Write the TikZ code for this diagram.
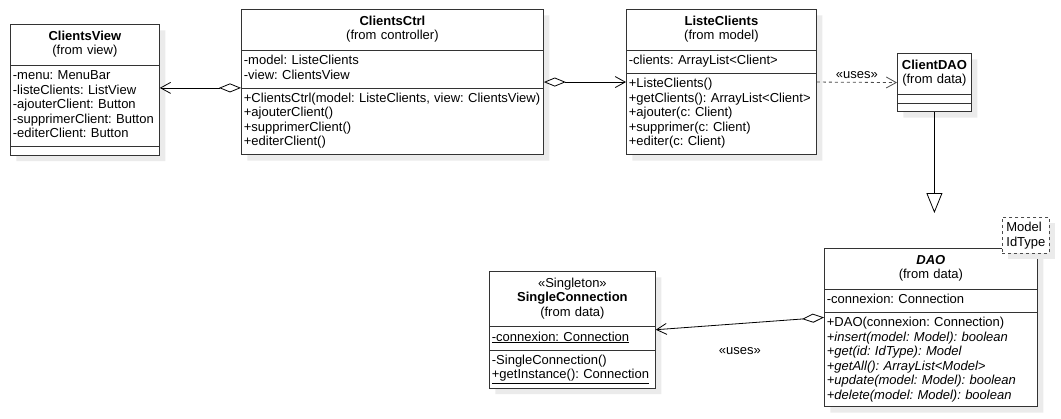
\documentclass[tikz,border=0pt]{standalone}
\usepackage{fontspec}
\setmainfont{Liberation Sans}
\usetikzlibrary{arrows.meta}
\usetikzlibrary{shapes.multipart}
\usetikzlibrary{shadows}
\usetikzlibrary{positioning}
\setlength{\parindent}{0pt}
\newcommand{\umltitle}[1]{\parbox{\hsize}{\centering\rule{0pt}{11.6pt}#1\rule[-5.8pt]{0pt}{0pt}}}

\tikzset{
  umlclass/.style={rectangle split, rectangle split parts=3, anchor=north west,
    draw=black!80, line width=0.8pt, fill=white, inner xsep=2.5pt, inner ysep=4pt,
    align=left, font=\fontsize{13}{14.5}\selectfont\frenchspacing,
    rectangle split empty part height=1pt,
    drop shadow={shadow xshift=6pt, shadow yshift=-6pt, fill=black!8, opacity=1, draw=none}},
  tplbox/.style={draw=black!70, dashed, line width=0.8pt, fill=white, anchor=north west,
    align=left, inner sep=2pt, font=\fontsize{13}{14.5}\selectfont,
    drop shadow={shadow xshift=6pt, shadow yshift=-6pt, fill=black!8, opacity=1, draw=none}},
  aggr/.style={line width=0.8pt, {Diamond[open,length=22pt,width=9pt]}-{Straight Barb[length=10pt,width=11pt]}},
  uses/.style={line width=0.8pt, black!70, dash pattern=on 3pt off 3pt, -{Straight Barb[length=10pt,width=11pt]}},
  gen/.style={line width=0.8pt, -{Triangle[open,length=20pt,width=16pt,fill=white]}},
  lbl/.style={font=\fontsize{13}{14.5}\selectfont}
}

\begin{document}
\begin{tikzpicture}[x=1pt,y=-1pt]
\useasboundingbox (0,0) rectangle (1061,418);

% classes of the view and the controller
\node[umlclass, text width=144pt] (view) at (10,24)
  {\umltitle{\textbf{ClientsView}\\(from view)}
   \nodepart{two}\strut-menu: MenuBar\\-listeClients: ListView\\-ajouterClient: Button\\-supprimerClient: Button\\-editerClient: Button\strut
   \nodepart{three}};
\node[umlclass, text width=297pt] (ctrl) at (241,9)
  {\umltitle{\textbf{ClientsCtrl}\\(from controller)}
   \nodepart{two}\strut-model: ListeClients\\-view: ClientsView\strut
   \nodepart{three}\strut+ClientsCtrl(model: ListeClients, view: ClientsView)\\+ajouterClient()\\+supprimerClient()\\+editerClient()\strut};

% model
\node[umlclass, text width=185pt] (liste) at (626,9)
  {\umltitle{\textbf{ListeClients}\\(from model)}
   \nodepart{two}\strut-clients: ArrayList<Client>\strut
   \nodepart{three}\strut+ListeClients()\\+getClients(): ArrayList<Client>\\+ajouter(c: Client)\\+supprimer(c: Client)\\+editer(c: Client)\strut};

% data
\node[umlclass, text width=69pt] (cdao) at (897,53)
  {\umltitle{\textbf{ClientDAO}\\(from data)}
   \nodepart{two}
   \nodepart{three}};
\node[umlclass, text width=208pt] (dao) at (824,248)
  {\umltitle{\textbf{\textit{DAO}}\\(from data)}
   \nodepart{two}\strut-connexion: Connection\strut
   \nodepart{three}\strut+DAO(connexion: Connection)\\\textit{+insert(model: Model): boolean}\\\textit{+get(id: IdType): Model}\\\textit{+getAll(): ArrayList<Model>}\\\textit{+update(model: Model): boolean}\\\textit{+delete(model: Model): boolean}};
\node[tplbox, minimum width=47pt, minimum height=36pt] (tpl) at (1002,217) {Model\\IdType};
\node[umlclass, text width=161pt] (sc) at (489,271)
  {\umltitle{«Singleton»\\\textbf{SingleConnection}\\(from data)}
   \nodepart{two}\strut\underline{-connexion: Connection}\strut
   \nodepart{three}\strut-SingleConnection()\\\underline{+getInstance(): Connection}};

% relations
\coordinate (genend) at (cdao.south |- 0,213);
\draw[aggr] (ctrl.two split west) -- (ctrl.two split west -| view.east);
\draw[aggr] (ctrl.east) -- (liste.west);
\draw[uses] (liste.east) -- node[lbl, above, black]{«uses»} (cdao.west);
\draw[gen] (cdao.south) -- (genend);
\draw[aggr] ([yshift=-5pt]dao.two split west) -- node[lbl, midway, below=20pt]{«uses»} (sc.east);

\end{tikzpicture}
\end{document}
